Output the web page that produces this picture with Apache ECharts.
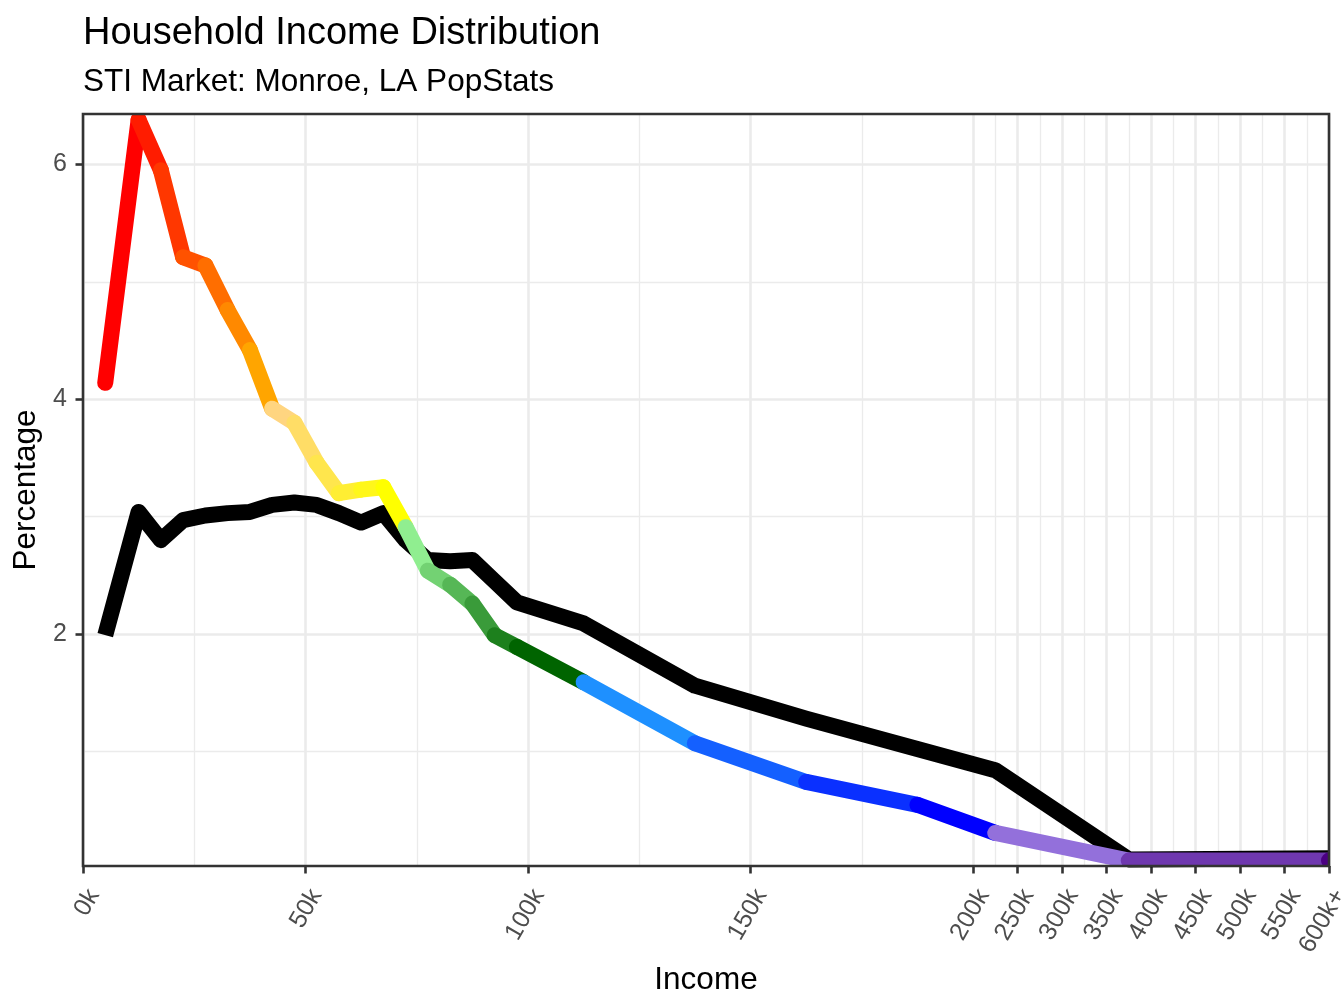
<!DOCTYPE html>
<html>
<head>
    <meta charset="utf-8">
    <title>Household Income Distribution</title>
    <script src="https://cdn.jsdelivr.net/npm/echarts@6.0.0/dist/echarts.min.js"></script>
    <style>
        html, body { margin: 0; padding: 0; background: #ffffff; }
        #chart { width: 1344px; height: 1008px; }
    </style>
</head>
<body>
<div id="chart"></div>
<script type="text/javascript">
    // income bin midpoints (in $k)
    var incomeK = [5, 12.5, 17.5, 22.5, 27.5, 32.5, 37.5, 42.5, 47.5, 52.5, 57.5, 62.5, 67.5,
        72.5, 77.5, 82.5, 87.5, 92.5, 97.5, 112.5, 137.5, 162.5, 187.5, 225, 375, 600];
    // Monroe, LA market share of households (%) - the coloured line
    var marketPct = [4.14, 6.38, 5.95, 5.21, 5.14, 4.76, 4.42, 3.92, 3.80, 3.46, 3.20, 3.23, 3.25,
        2.91, 2.54, 2.42, 2.26, 1.99, 1.89, 1.59, 1.07, 0.74, 0.545, 0.306, 0.07, 0.07];
    // reference distribution (%) - the black line
    var nationalPct = [1.99, 3.04, 2.80, 2.97, 3.01, 3.03, 3.04, 3.10, 3.12, 3.10, 3.03, 2.95, 3.03,
        2.80, 2.63, 2.62, 2.63, 2.45, 2.27, 2.09, 1.56, 1.28, 1.02, 0.84, 0.08, 0.09];

    // one colour per point, each segment takes the colour of its start point
    var segColors = ['#FF0000', '#FF1C00', '#FF3700', '#FF5200', '#FF6E00', '#FF8900', '#FFA500',
        '#FFD580', '#FFDD66', '#FFE64D', '#FFEE33', '#FFF71A', '#FFFF00',
        '#90EE90', '#73D273', '#56B756', '#3A9B3A', '#1D801D', '#006400',
        '#1E90FF', '#1460FF', '#0A30FF', '#0000FF',
        '#9370DB', '#6F38AF', '#4B0082'];

    var xTickIncome = [0, 50, 100, 150, 200, 250, 300, 350, 400, 450, 500, 550, 600];
    var xTickLabels = ['0k', '50k', '100k', '150k', '200k', '250k', '300k', '350k', '400k', '450k', '500k', '550k', '600k+'];
    var xMinorIncome = [25, 75, 125, 175, 225, 275, 325, 375, 425, 475, 525, 575];
    var yTicks = [2, 4, 6];
    var yMinor = [1, 3, 5];

    // x scale: linear up to 200k, then squeezed 5x out to 600k+
    function toAxis(v) {
        return v <= 200 ? v : 200 + (v - 200) / 5;
    }

    var fontFam = '"Liberation Sans", Arial, Helvetica, sans-serif';
    var lineW = 16;
    var myChart = echarts.init(document.getElementById('chart'));

    // segment list for the coloured path: [x1, y1, x2, y2, index]
    var segData = incomeK.map(function (v, i) {
        var j = Math.min(i + 1, incomeK.length - 1);
        return [toAxis(v), marketPct[i], toAxis(incomeK[j]), marketPct[j], i];
    });
    var blackData = incomeK.map(function (v, i) {
        return [toAxis(v), nationalPct[i]];
    });

    var xMajor = xTickIncome.map(toAxis);
    var xMinor = xMinorIncome.map(toAxis);

    myChart.setOption({
        animation: false,
        textStyle: { fontFamily: fontFam },
        title: [
            {
                text: 'Household Income Distribution',
                left: 83, top: 15, padding: 0,
                textStyle: { fontSize: 38, fontWeight: 'normal', color: '#000000', fontFamily: fontFam }
            },
            {
                text: 'STI Market: Monroe, LA PopStats',
                left: 83, top: 66.5, padding: 0,
                textStyle: { fontSize: 31.5, fontWeight: 'normal', color: '#000000', fontFamily: fontFam }
            }
        ],
        grid: {
            left: 83, right: 15, top: 114, bottom: 142,
            show: true,
            backgroundColor: 'transparent',
            borderColor: '#333333',
            borderWidth: 2.6,
            z: 5,
            outerBoundsMode: 'none'
        },
        xAxis: [
            {
                type: 'value',
                min: 0, max: 280,
                name: 'Income',
                nameLocation: 'middle',
                nameGap: 93,
                nameTextStyle: { fontSize: 31.5, color: '#000000', fontFamily: fontFam },
                axisLine: { show: false },
                axisTick: {
                    show: true, customValues: xMajor, length: 7.5,
                    lineStyle: { color: '#333333', width: 2.6 }
                },
                axisLabel: {
                    customValues: xMajor,
                    rotate: 60,
                    align: 'right',
                    verticalAlign: 'top',
                    margin: 19,
                    fontSize: 25,
                    color: '#4D4D4D',
                    fontFamily: fontFam,
                    formatter: function (v) {
                        for (var i = 0; i < xMajor.length; i++) {
                            if (Math.abs(xMajor[i] - v) < 1e-6) return xTickLabels[i];
                        }
                        return '';
                    }
                },
                splitLine: { show: true, lineStyle: { color: '#EBEBEB', width: 2.6 } }
            },
            {
                // minor grid lines only
                type: 'value',
                gridIndex: 0,
                position: 'top',
                min: 0, max: 280,
                axisLine: { show: false },
                axisTick: { show: false, customValues: xMinor },
                axisLabel: { show: false },
                splitLine: { show: true, lineStyle: { color: '#EBEBEB', width: 1.3 } }
            }
        ],
        yAxis: [
            {
                type: 'value',
                min: 0.024, max: 6.43,
                name: 'Percentage',
                nameLocation: 'middle',
                nameGap: 34,
                nameTextStyle: { fontSize: 31.5, color: '#000000', fontFamily: fontFam },
                axisLine: { show: false },
                axisTick: {
                    show: true, customValues: yTicks, length: 7.5,
                    lineStyle: { color: '#333333', width: 2.6 }
                },
                axisLabel: {
                    customValues: yTicks,
                    margin: 16,
                    fontSize: 25,
                    color: '#4D4D4D',
                    fontFamily: fontFam
                },
                splitLine: { show: true, lineStyle: { color: '#EBEBEB', width: 2.6 } }
            },
            {
                type: 'value',
                gridIndex: 0,
                position: 'right',
                min: 0.024, max: 6.43,
                axisLine: { show: false },
                axisTick: { show: false, customValues: yMinor },
                axisLabel: { show: false },
                splitLine: { show: true, lineStyle: { color: '#EBEBEB', width: 1.3 } }
            }
        ],
        series: [
            {
                name: 'Reference',
                type: 'line',
                data: blackData,
                symbol: 'none',
                silent: true,
                z: 2,
                lineStyle: { color: '#000000', width: lineW, cap: 'butt', join: 'round' }
            },
            {
                name: 'Monroe, LA',
                type: 'custom',
                data: segData,
                encode: { x: [0, 2], y: [1, 3] },
                clip: true,
                silent: true,
                z: 3,
                renderItem: function (params, api) {
                    var i = api.value(4);
                    var p1 = api.coord([api.value(0), api.value(1)]);
                    var p2 = api.coord([api.value(2), api.value(3)]);
                    if (i === incomeK.length - 1) {
                        return {
                            type: 'circle',
                            shape: { cx: p1[0], cy: p1[1], r: lineW / 2 },
                            style: { fill: segColors[i] }
                        };
                    }
                    return {
                        type: 'line',
                        shape: { x1: p1[0], y1: p1[1], x2: p2[0], y2: p2[1] },
                        style: { stroke: segColors[i], fill: null, lineWidth: lineW, lineCap: 'round' }
                    };
                }
            }
        ]
    });
</script>
</body>
</html>
